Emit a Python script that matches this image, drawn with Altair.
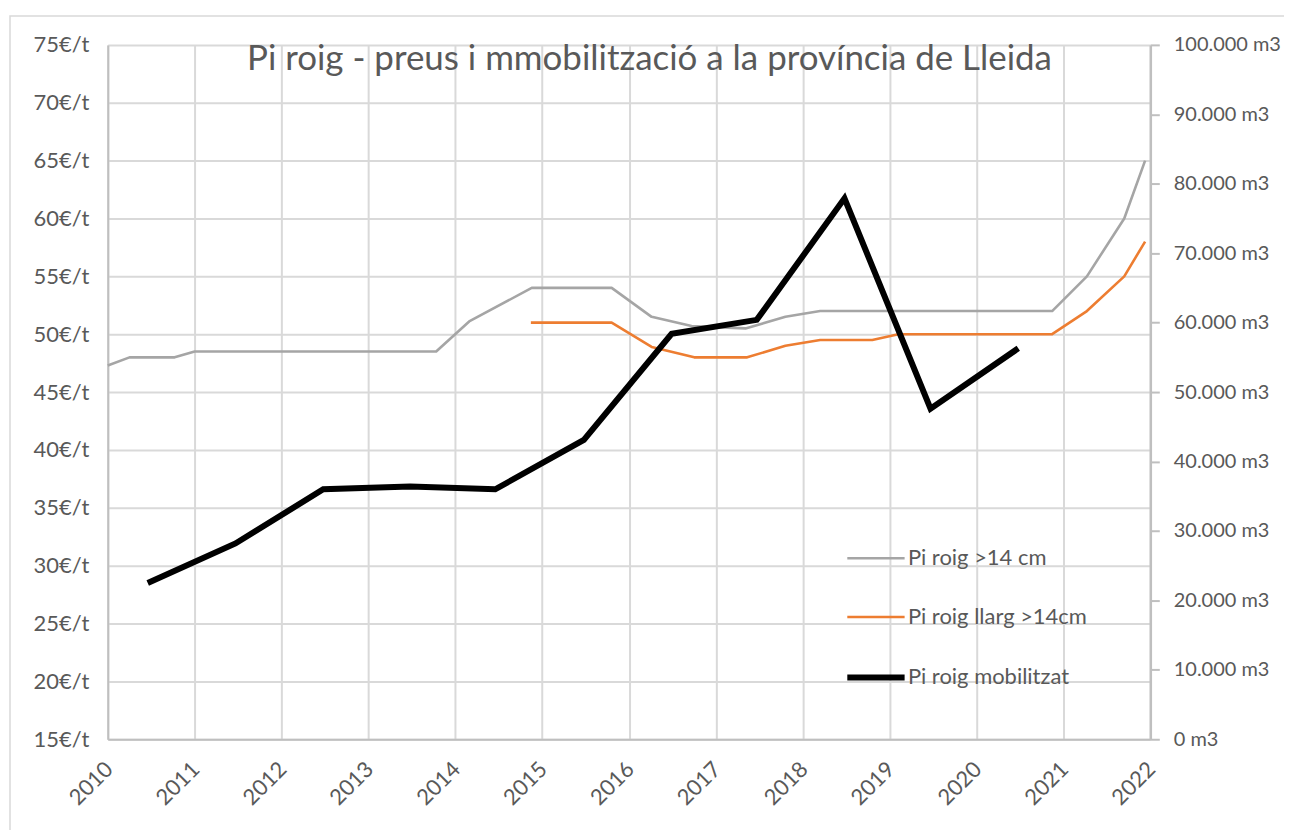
import altair as alt
import pandas as pd

# ---- data ----
series_names = ["Pi roig >14 cm", "Pi roig llarg >14cm", "Pi roig mobilitzat"]
series_colors = ["#A5A5A5", "#ED7D31", "#000000"]
series_widths = [2.6, 2.6, 6]

grey_x = [2010.0, 2010.25, 2010.77, 2011.0, 2013.78, 2014.16, 2014.88, 2015.80, 2016.26,
          2016.72, 2017.34, 2017.80, 2018.20, 2020.87, 2021.27, 2021.70, 2021.94]
grey_y = [47.3, 48.0, 48.0, 48.5, 48.5, 51.1, 54.0, 54.0, 51.5,
          50.7, 50.5, 51.5, 52.0, 52.0, 55.0, 60.0, 65.0]

orange_x = [2014.87, 2015.80, 2016.26, 2016.75, 2017.36, 2017.80, 2018.20, 2018.80,
            2019.10, 2020.87, 2021.27, 2021.70, 2021.94]
orange_y = [51.0, 51.0, 48.9, 48.0, 48.0, 49.0, 49.5, 49.5,
            50.0, 50.0, 52.0, 55.0, 58.0]

mob_x = [2010.46, 2011.47, 2012.48, 2013.48, 2014.46, 2015.48, 2016.49, 2017.47,
         2018.48, 2019.47, 2020.48]
mob_y = [22500, 28200, 36000, 36400, 36000, 43100, 58400, 60400, 77900, 47600, 56300]

year_ticks = list(range(2010, 2023))
price_ticks = [15, 20, 25, 30, 35, 40, 45, 50, 55, 60, 65, 70, 75]
m3_ticks = [0, 10000, 20000, 30000, 40000, 50000, 60000, 70000, 80000, 90000, 100000]

title_text = "Pi roig - preus i mmobilització a la província de Lleida"

# ---- tables ----
price_df = pd.concat([
    pd.DataFrame({"year": grey_x, "value": grey_y, "series": series_names[0], "ord": range(len(grey_x))}),
    pd.DataFrame({"year": orange_x, "value": orange_y, "series": series_names[1], "ord": range(len(orange_x))}),
])
mob_df = pd.DataFrame({"year": mob_x, "m3": mob_y, "series": series_names[2], "ord": range(len(mob_x))})

W, H = 1045, 696
FONT = "Lato"
TXT = "#595959"
GRID = "#D9D9D9"
AX = "#BFBFBF"
LS = 22

legend = alt.Legend(
    title=None, orient="none", legendX=738, legendY=484,
    symbolType="stroke", symbolSize=3300, labelFont=FONT, labelFontSize=LS,
    labelColor=TXT, labelOffset=0, rowPadding=17, labelLimit=400,
)
color = alt.Color("series:O", scale=alt.Scale(type="ordinal", domain=series_names, range=series_colors), legend=legend)
swidth = alt.StrokeWidth("series:O", scale=alt.Scale(type="ordinal", domain=series_names, range=series_widths), legend=legend)

x_enc = alt.X(
    "year:Q",
    scale=alt.Scale(domain=[2010, 2022], nice=False, zero=False),
    axis=alt.Axis(
        values=year_ticks, format="d", title=None, labelAngle=-45, labelAlign="right",
        labelBaseline="middle", labelPadding=26, labelOffset=1, labelFont=FONT, labelFontSize=LS,
        labelColor=TXT, ticks=False, grid=True, gridColor=GRID, gridWidth=2,
        domainColor=AX, domainWidth=2, labelFlush=False, labelOverlap=False,
    ),
)

prices = alt.Chart(price_df).mark_line(strokeJoin="round").encode(
    x=x_enc,
    y=alt.Y(
        "value:Q",
        scale=alt.Scale(domain=[15, 75], nice=False, zero=False),
        axis=alt.Axis(
            values=price_ticks, title=None, labelExpr="datum.value + '€/t'",
            labelFont=FONT, labelFontSize=LS, labelColor=TXT, labelPadding=19,
            ticks=False, grid=True, gridColor=GRID, gridWidth=2,
            domainColor=AX, domainWidth=2, labelFlush=False, labelOverlap=False,
        ),
    ),
    color=color,
    strokeWidth=swidth,
    order="ord:Q",
)

mob = alt.Chart(mob_df).mark_line(strokeJoin="miter").encode(
    x=alt.X("year:Q"),
    y=alt.Y(
        "m3:Q",
        scale=alt.Scale(domain=[0, 100000], nice=False),
        axis=alt.Axis(
            orient="right", values=m3_ticks, title=None,
            labelExpr="replace(format(datum.value, ',.0f'), ',', '.') + ' m3'",
            labelFont=FONT, labelFontSize=20, labelColor=TXT, labelPadding=14,
            ticks=True, tickSize=9, tickColor=AX, tickWidth=2, grid=False,
            domainColor=AX, domainWidth=2.5, labelFlush=False, labelOverlap=False,
        ),
    ),
    color=color,
    strokeWidth=swidth,
    order="ord:Q",
)

title_layer = alt.Chart(pd.DataFrame({"t": [title_text]})).mark_text(
    font=FONT, fontSize=35, color=TXT, align="center", baseline="alphabetic"
).encode(text="t:N", x=alt.value(543), y=alt.value(25))

border = alt.Chart(pd.DataFrame({"b": [0]})).mark_rect(
    fill=None, stroke="#D9D9D9", strokeWidth=1.5
).encode(x=alt.value(-98), x2=alt.value(W + 150), y=alt.value(-29), y2=alt.value(H + 120))

chart = alt.layer(border, prices, mob, title_layer).resolve_scale(
    y="independent"
).properties(
    width=W, height=H,
    autosize=alt.AutoSizeParams(type="none"),
    padding={"left": 100, "top": 36, "right": 134, "bottom": 90},
    background="white",
).configure_view(stroke=None)

chart.save("out.html", embed_options={"renderer": "svg", "actions": False})
